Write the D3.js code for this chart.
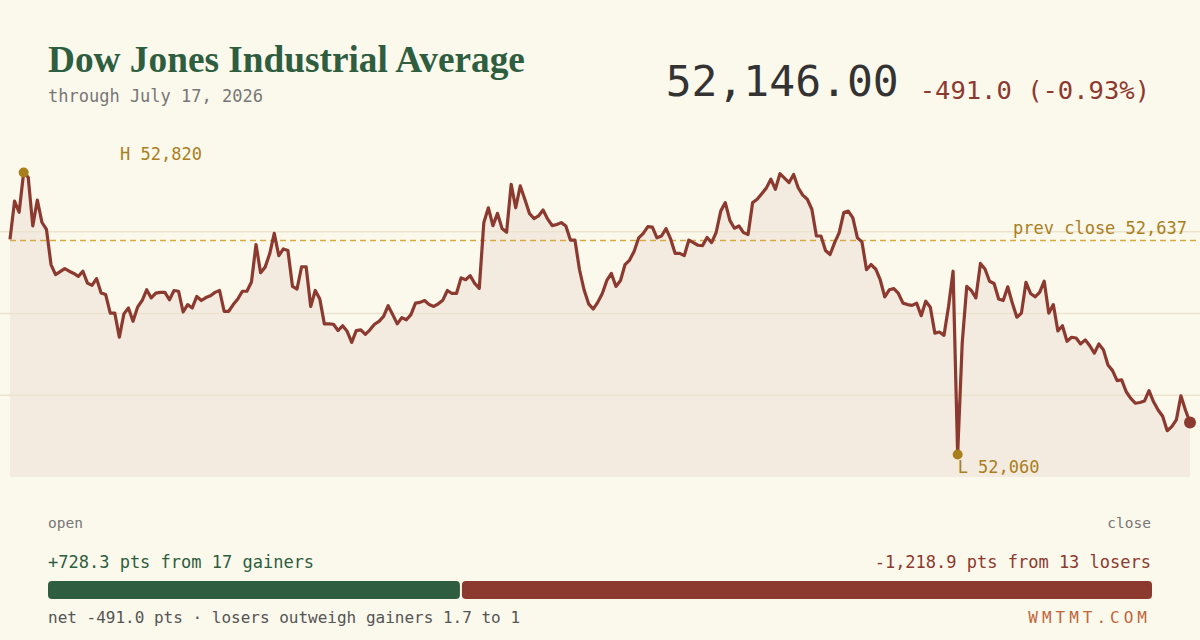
<!DOCTYPE html>
<html>
<head>
<meta charset="utf-8">
<script src="https://cdn.jsdelivr.net/npm/d3@7"></script>
<style>
  html, body { margin: 0; padding: 0; background: #fbf8ec; }
  svg { display: block; }
</style>
</head>
<body>
<div id="chart"></div>
<script>
// intraday closes, one every ~1.5 min from open to close
const values = [
  52640, 52743, 52713, 52820, 52807, 52676, 52746, 52686, 52667, 52572,
  52545, 52553, 52561, 52554, 52548, 52540, 52554, 52522, 52516, 52534,
  52495, 52491, 52441, 52441, 52376, 52439, 52455, 52419, 52457, 52475,
  52504, 52482, 52495, 52497, 52497, 52477, 52502, 52500, 52444, 52464,
  52455, 52486, 52475, 52483, 52488, 52497, 52502, 52446, 52446, 52464,
  52479, 52500, 52500, 52525, 52626, 52550, 52565, 52601, 52656, 52596,
  52614, 52610, 52513, 52506, 52566, 52566, 52459, 52502, 52479, 52412,
  52412, 52411, 52394, 52407, 52392, 52362, 52394, 52396, 52384, 52396,
  52411, 52419, 52432, 52461, 52437, 52412, 52429, 52423, 52437, 52468,
  52470, 52475, 52464, 52459, 52466, 52476, 52502, 52494, 52494, 52536,
  52531, 52542, 52521, 52508, 52685, 52725, 52677, 52710, 52669, 52659,
  52788, 52725, 52784, 52748, 52710, 52696, 52703, 52719, 52695, 52677,
  52680, 52685, 52676, 52638, 52638, 52558, 52504, 52466, 52452, 52470,
  52494, 52529, 52548, 52513, 52529, 52572, 52584, 52608, 52644, 52656,
  52674, 52673, 52644, 52649, 52669, 52641, 52602, 52602, 52596, 52638,
  52631, 52624, 52623, 52645, 52631, 52659, 52716, 52739, 52691, 52670,
  52676, 52658, 52653, 52739, 52748, 52763, 52778, 52802, 52775, 52817,
  52805, 52793, 52815, 52779, 52759, 52748, 52721, 52649, 52649, 52610,
  52599, 52631, 52658, 52712, 52716, 52698, 52644, 52633, 52558, 52572,
  52560, 52531, 52485, 52504, 52507, 52494, 52468, 52464, 52462, 52468,
  52434, 52473, 52457, 52387, 52390, 52381, 52459, 52554, 52060, 52360,
  52513, 52502, 52482, 52575, 52560, 52527, 52521, 52479, 52475, 52512,
  52468, 52430, 52441, 52524, 52494, 52485, 52497, 52527, 52441, 52464,
  52393, 52407, 52365, 52376, 52374, 52358, 52369, 52353, 52333, 52358,
  52342, 52301, 52286, 52259, 52261, 52229, 52211, 52198, 52200, 52204,
  52232, 52202, 52180, 52163, 52124, 52135, 52153, 52218, 52180, 52146
];
const prevClose = 52637;
const lastPrice = 52146.00;
const change = -491.0;
const changePct = -0.93;
const gainers = { count: 17, pts: 728.3 };
const losers = { count: 13, pts: -1218.9 };
const title = "Dow Jones Industrial Average";
const subtitle = "through July 17, 2026";
const site = "WMTMT.COM";

const width = 1200, height = 640;
const plot = { left: 10, right: 1190, top: 150, bottom: 477 };
const mono = "'DejaVu Sans Mono', monospace";
const col = {
  bg: "#fbf8ec", fill: "#f3ebe0", grid: "#ece3cf", line: "#8c3a2f",
  gold: "#a97f1d", dash: "#d3aa45", green: "#2e5e3f", red: "#8c3a2f",
  ink: "#333333", grey: "#777777", site: "#c0673d"
};
// plain hyphen for negatives, like the original
const fmt = d3.formatLocale({ decimal: ".", thousands: ",", grouping: [3], currency: ["$", ""], minus: "-" }).format;

const svg = d3.select("#chart").append("svg")
  .attr("width", width).attr("height", height)
  .style("background", col.bg);

const lo = d3.min(values), hi = d3.max(values);
const pad = (hi - lo) * 0.08;
const x = d3.scaleLinear().domain([0, values.length - 1]).range([plot.left, plot.right]);
const y = d3.scaleLinear().domain([lo - pad, hi + pad]).range([plot.bottom, plot.top]);

// area under the curve
const area = d3.area()
  .x((d, i) => x(i))
  .y0(plot.bottom)
  .y1(d => y(d));
svg.append("path").datum(values)
  .attr("d", area)
  .attr("fill", col.fill);

// quarter gridlines
const dom = y.domain();
const gridVals = [1, 2, 3].map(k => dom[0] + k * (dom[1] - dom[0]) / 4);
svg.append("g").selectAll("line").data(gridVals).enter().append("line")
  .attr("x1", 0).attr("x2", width)
  .attr("y1", d => y(d)).attr("y2", d => y(d))
  .attr("stroke", col.grid).attr("stroke-width", 1.5);

// previous close
svg.append("line")
  .attr("x1", plot.left).attr("x2", width)
  .attr("y1", y(prevClose)).attr("y2", y(prevClose))
  .attr("stroke", col.dash).attr("stroke-width", 1.5)
  .attr("stroke-dasharray", "6,4");
svg.append("text")
  .attr("x", 1187).attr("y", y(prevClose) - 6)
  .attr("text-anchor", "end")
  .style("font", `17px ${mono}`).attr("fill", col.gold)
  .text("prev close " + fmt(",")(prevClose));

// the price line
const line = d3.line().x((d, i) => x(i)).y(d => y(d));
svg.append("path").datum(values)
  .attr("d", line)
  .attr("fill", "none")
  .attr("stroke", col.line).attr("stroke-width", 3.2)
  .attr("stroke-linejoin", "round");

// high / low markers
const iHi = d3.maxIndex(values), iLo = d3.minIndex(values);
svg.append("circle").attr("cx", x(iHi)).attr("cy", y(hi)).attr("r", 5).attr("fill", col.gold);
svg.append("circle").attr("cx", x(iLo)).attr("cy", y(lo)).attr("r", 5).attr("fill", col.gold);
svg.append("text")
  .attr("x", Math.max(x(iHi), 120)).attr("y", y(hi) - 13)
  .style("font", `17px ${mono}`).attr("fill", col.gold)
  .text("H " + fmt(",")(hi));
svg.append("text")
  .attr("x", x(iLo)).attr("y", y(lo) + 19)
  .style("font", `17px ${mono}`).attr("fill", col.gold)
  .text("L " + fmt(",")(lo));

// close dot
svg.append("circle")
  .attr("cx", x(values.length - 1)).attr("cy", y(values[values.length - 1]))
  .attr("r", 6).attr("fill", col.line);

// header
const t = svg.append("text")
  .attr("x", 48).attr("y", 72)
  .style("font-family", "'Liberation Serif', serif")
  .style("font-weight", "bold")
  .style("font-size", "36px")
  .attr("fill", col.green)
  .text(title);
const tw = t.node().getComputedTextLength();
t.style("font-size", (36 * 477 / tw).toFixed(1) + "px");

svg.append("text")
  .attr("x", 48).attr("y", 102)
  .style("font", `17px ${mono}`).attr("fill", col.grey)
  .text(subtitle);

const chg = svg.append("text")
  .attr("x", 1150).attr("y", 99)
  .attr("text-anchor", "end")
  .style("font", `25.5px ${mono}`).attr("fill", col.red)
  .text(`${fmt(".1f")(change)} (${fmt(".2f")(changePct)}%)`);
const chgW = chg.node().getComputedTextLength();
svg.append("text")
  .attr("x", 1150 - chgW - 21).attr("y", 96)
  .attr("text-anchor", "end")
  .style("font", `43px ${mono}`).attr("fill", col.ink)
  .text(fmt(",.2f")(lastPrice));

// open / close captions
svg.append("text").attr("x", 48).attr("y", 528)
  .style("font", `14.5px ${mono}`).attr("fill", col.grey).text("open");
svg.append("text").attr("x", 1151).attr("y", 528).attr("text-anchor", "end")
  .style("font", `14.5px ${mono}`).attr("fill", col.grey).text("close");

// gainers vs losers
svg.append("text").attr("x", 48).attr("y", 568)
  .style("font", `17px ${mono}`).attr("fill", col.green)
  .text(`+${gainers.pts.toFixed(1)} pts from ${gainers.count} gainers`);
svg.append("text").attr("x", 1151).attr("y", 568).attr("text-anchor", "end")
  .style("font", `17px ${mono}`).attr("fill", col.red)
  .text(`${fmt(",.1f")(losers.pts)} pts from ${losers.count} losers`);

const barX = d3.scaleLinear()
  .domain([0, gainers.pts + Math.abs(losers.pts)])
  .range([48, 1152]);
const split = barX(gainers.pts);
svg.append("rect").attr("x", barX(0)).attr("y", 581)
  .attr("width", split - barX(0) - 1).attr("height", 18)
  .attr("rx", 4).attr("fill", col.green);
svg.append("rect").attr("x", split + 1).attr("y", 581)
  .attr("width", barX.range()[1] - split - 1).attr("height", 18)
  .attr("rx", 4).attr("fill", col.red);

const ratio = Math.abs(losers.pts) / gainers.pts;
svg.append("text").attr("x", 48).attr("y", 623)
  .style("font", `16px ${mono}`).attr("fill", "#555555")
  .text(`net ${fmt(".1f")(change)} pts · losers outweigh gainers ${ratio.toFixed(1)} to 1`);
svg.append("text").attr("x", 1151).attr("y", 623).attr("text-anchor", "end")
  .style("font", `16px ${mono}`).style("letter-spacing", "4px")
  .attr("fill", col.site)
  .text(site);
</script>
</body>
</html>
